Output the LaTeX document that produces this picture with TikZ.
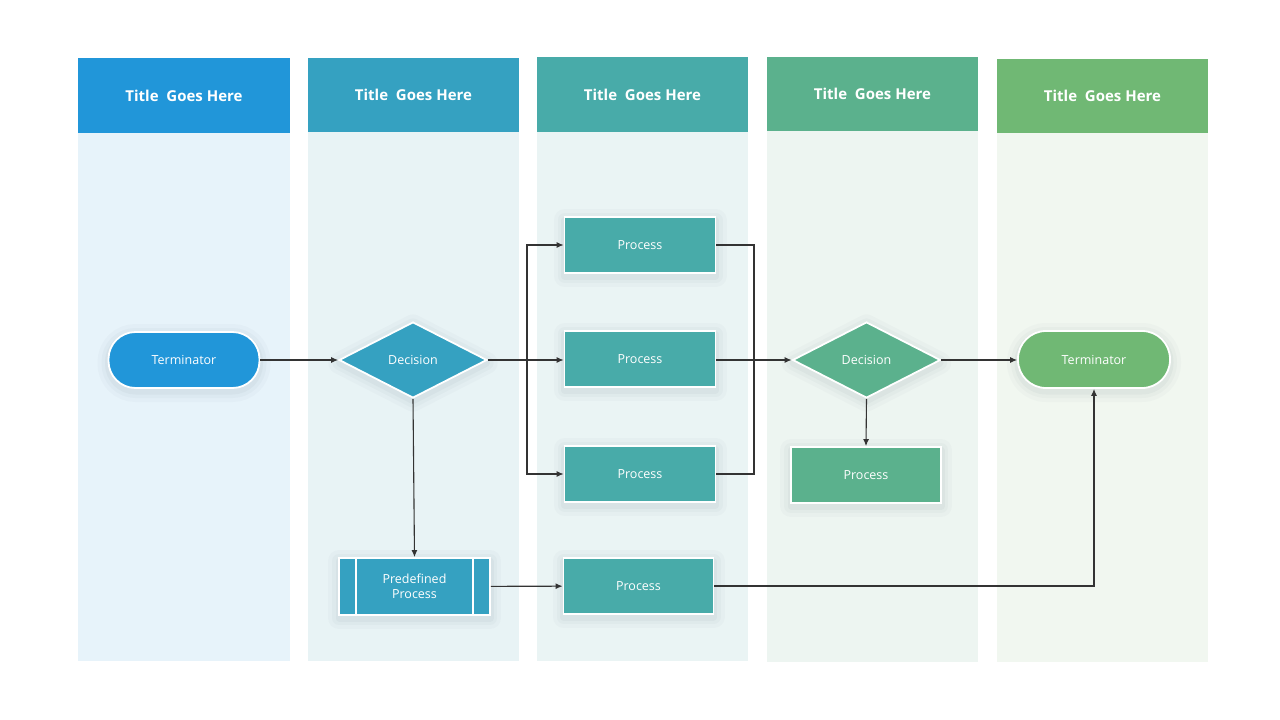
\documentclass[tikz,border=0pt]{standalone}
\usepackage{fontspec}
\setmainfont{Open Sans}
\usetikzlibrary{shapes.geometric,arrows.meta}
\definecolor{hA}{HTML}{2196D9}
\definecolor{hB}{HTML}{35A1C1}
\definecolor{hC}{HTML}{48ABA9}
\definecolor{hD}{HTML}{5BB18D}
\definecolor{hE}{HTML}{70B874}
\definecolor{bA}{HTML}{E7F3FA}
\definecolor{bB}{HTML}{E8F3F5}
\definecolor{bC}{HTML}{EAF4F4}
\definecolor{bD}{HTML}{EDF5F1}
\definecolor{bE}{HTML}{F1F7F0}
\definecolor{lineC}{HTML}{333333}
\definecolor{shC}{HTML}{6E7F8A}
\tikzset{
  hdr/.style={fill=#1, draw=none, text=white, font=\fontsize{15}{18}\selectfont\bfseries},
  shd/.style={
    preaction={draw=shC, draw opacity=0.035, line width=22pt, line join=round, fill opacity=0, transform canvas={yshift=-3pt}},
    preaction={draw=shC, draw opacity=0.045, line width=14pt, line join=round, fill opacity=0, transform canvas={yshift=-3pt}},
    preaction={draw=shC, draw opacity=0.06, line width=7pt, line join=round, fill opacity=0, transform canvas={yshift=-3pt}}},
  shapebase/.style={fill=#1, draw=white, line width=1.8pt, text=white, font=\fontsize{12.5}{15}\selectfont, shd},
  proc/.style={shapebase=#1, rectangle, minimum width=151pt, minimum height=56pt, inner sep=0pt},
  term/.style={shapebase=#1, rectangle, rounded corners=27pt, minimum width=151pt, minimum height=56pt, inner sep=0pt},
  dec/.style={shapebase=#1, diamond, aspect=2, minimum width=148pt, minimum height=76pt, inner sep=0pt},
  predef/.style={shapebase=#1, rectangle, minimum width=151pt, minimum height=57pt, inner sep=0pt, align=center},
  conn/.style={draw=lineC, line width=1.1pt, -{Latex[length=7pt,width=6pt]}},
  plain/.style={draw=lineC, line width=1.1pt},
}
\begin{document}
\begin{tikzpicture}[x=1pt,y=-1pt]
\useasboundingbox (0,0) rectangle (1280,720);
\fill[white] (0,0) rectangle (1280,720);
% lanes
\fill[bA] (78,133) rectangle (290,661);
\fill[bB] (308,132) rectangle (519,661);
\fill[bC] (537,132) rectangle (748,661);
\fill[bD] (767,131) rectangle (978,662);
\fill[bE] (997,133) rectangle (1208,662);
% headers
\node[hdr=hA, minimum width=212pt, minimum height=75pt, inner sep=0pt] (h1) at (184,95.5) {Title\ \ Goes Here};
\node[hdr=hB, minimum width=211pt, minimum height=74pt, inner sep=0pt] (h2) at (413.5,95) {Title\ \ Goes Here};
\node[hdr=hC, minimum width=211pt, minimum height=75pt, inner sep=0pt] (h3) at (642.5,94.5) {Title\ \ Goes Here};
\node[hdr=hD, minimum width=211pt, minimum height=74pt, inner sep=0pt] (h4) at (872.5,94) {Title\ \ Goes Here};
\node[hdr=hE, minimum width=211pt, minimum height=74pt, inner sep=0pt] (h5) at (1102.5,96) {Title\ \ Goes Here};
% nodes
\node[term=hA] (t1) at (184,360) {Terminator};
\node[dec=hB] (d1) at (413,360) {Decision};
\node[predef=hB] (pd) at (414.5,586.5) {Predefined\\Process};
\draw[white, line width=1.4pt] ([xshift=18pt]pd.north west) -- ([xshift=18pt]pd.south west);
\draw[white, line width=1.4pt] ([xshift=-18pt]pd.north east) -- ([xshift=-18pt]pd.south east);
\node[proc=hC] (p1) at (640,245) {Process};
\node[proc=hC] (p2) at (640,359) {Process};
\node[proc=hC] (p3) at (640,474) {Process};
\node[proc=hC, minimum width=150pt] (p4) at (638.5,586) {Process};
\node[dec=hD] (d2) at (866.5,360) {Decision};
\node[proc=hD, minimum width=150pt] (p5) at (866,475) {Process};
\node[term=hE, minimum width=152pt, minimum height=57pt, rounded corners=28pt] (t2) at (1094,359.5) {Terminator};
% connectors
\coordinate (br) at (527,360);
\coordinate (mg) at (754,360);
\draw[conn] (t1) -- (d1);
\draw[conn] (d1.east) -- (p2.west |- d1.east);
\draw[conn] (br) |- (p1.west);
\draw[conn] (br) |- (p3.west);
\draw[conn] (d1.south) -- (pd.north);
\draw[conn] (pd) -- (p4);
\draw[plain] (p1.east) -| (mg);
\draw[plain] (p3.east) -| (mg);
\draw[conn] (p2.east |- d2.west) -- (d2.west);
\draw[conn] (d2.south) -- (p5.north);
\draw[conn] (d2.east) -- (t2.west |- d2.east);
\draw[conn] (p4.east) -| (t2.south);
\end{tikzpicture}
\end{document}
